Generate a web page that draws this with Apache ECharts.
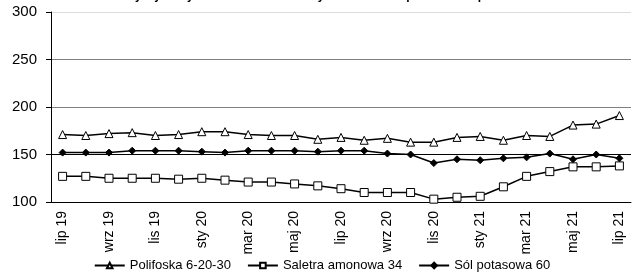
<!DOCTYPE html>
<html>
<head>
<meta charset="UTF-8">
<title>Ceny nawozów</title>
<script src="https://cdn.jsdelivr.net/npm/echarts@6/dist/echarts.min.js"></script>
<style>
  html, body { margin: 0; padding: 0; background: #fff; }
  #main { width: 644px; height: 279px; }
</style>
</head>
<body>
<div id="main"></div>
<script>
// miesiace lip 19 .. lip 21
var months = ['lip 19','sie 19','wrz 19','paź 19','lis 19','gru 19','sty 20','lut 20','mar 20','kwi 20','maj 20','cze 20',
              'lip 20','sie 20','wrz 20','paź 20','lis 20','gru 20','sty 21','lut 21','mar 21','kwi 21','maj 21','cze 21','lip 21'];
var polifoska = [171,170,172,173,170,171,174,174,171,170,170,166,168,165,167,163,163,168,169,165,170,169,181,182,191];
var saletra   = [127,127,125,125,125,124,125,123,121,121,119,117,114,110,110,110,103,105,106,116,127,132,137,137,138];
var sol       = [152,152,152,154,154,154,153,152,154,154,154,153,154,154,151,150,141,145,144,146,147,151,145,150,146];
var yTicks = [100, 150, 200, 250, 300];

var font = 'Liberation Sans, Arial, sans-serif';
var chart = echarts.init(document.getElementById('main'));

chart.setOption({
  animation: false,
  title: {
    text: 'Ceny wybranych nawozów mineralnych w okresie lipiec 2019 - lipiec 2021',
    left: 'center',
    top: -15,
    textStyle: { fontFamily: font, fontSize: 12, fontWeight: 'bold', color: '#000' }
  },
  grid: { left: 51, right: 13, top: 12, bottom: 77 },
  legend: {
    bottom: 2,
    left: 'center',
    itemWidth: 30,
    itemHeight: 7,
    itemGap: 16,
    textStyle: { fontFamily: font, fontSize: 13, color: '#000' },
    data: ['Polifoska 6-20-30', 'Saletra amonowa 34', 'Sól potasowa 60']
  },
  xAxis: {
    type: 'category',
    data: months,
    boundaryGap: true,
    axisLine: { lineStyle: { color: '#000', width: 1 } },
    axisTick: { interval: 1, length: 5, lineStyle: { color: '#000' } },
    axisLabel: {
      interval: 1,
      rotate: 90,
      margin: 9,
      fontFamily: font,
      fontSize: 14,
      color: '#000'
    },
    splitLine: { show: false }
  },
  yAxis: {
    type: 'value',
    min: yTicks[0],
    max: yTicks[yTicks.length - 1],
    interval: 50,
    axisLine: { show: true, lineStyle: { color: '#000', width: 1 } },
    axisTick: { show: true, length: 5, lineStyle: { color: '#000' } },
    axisLabel: { margin: 14, fontFamily: font, fontSize: 15, color: '#000' },
    splitLine: {
      show: true,
      lineStyle: { color: ['rgba(0,0,0,0)', '#000', '#808080', '#808080', '#dcdcdc'], width: 1 }
    }
  },
  series: [
    {
      name: 'Polifoska 6-20-30',
      type: 'line',
      data: polifoska,
      symbol: 'triangle',
      symbolSize: 8,
      lineStyle: { color: '#000', width: 1.5 },
      itemStyle: { color: '#fff', borderColor: '#000', borderWidth: 1 }
    },
    {
      name: 'Saletra amonowa 34',
      type: 'line',
      data: saletra,
      symbol: 'rect',
      symbolSize: 8,
      lineStyle: { color: '#000', width: 1.5 },
      itemStyle: { color: '#fff', borderColor: '#000', borderWidth: 1 }
    },
    {
      name: 'Sól potasowa 60',
      type: 'line',
      data: sol,
      symbol: 'diamond',
      symbolSize: 7,
      lineStyle: { color: '#000', width: 1.5 },
      itemStyle: { color: '#000', borderColor: '#000', borderWidth: 1 }
    }
  ]
});
</script>
</body>
</html>
